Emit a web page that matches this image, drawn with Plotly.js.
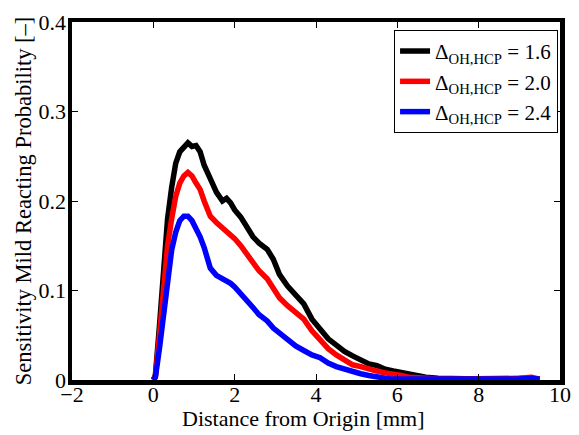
<!DOCTYPE html>
<html><head><meta charset="utf-8">
<script src="https://cdn.plot.ly/plotly-3.0.1.min.js"></script>
<style>html,body{margin:0;padding:0;background:#fff;}#chart{width:579px;height:435px;}</style>
</head><body><div id="chart"></div>
<script>
const distance = [0, 0.05, 0.15, 0.25, 0.35, 0.45, 0.55, 0.65, 0.75, 0.85, 0.95, 1.05, 1.15, 1.25, 1.4, 1.55, 1.7, 1.8, 1.9, 2.0, 2.15, 2.3, 2.45, 2.6, 2.8, 2.95, 3.1, 3.3, 3.5, 3.7, 3.9, 4.1, 4.3, 4.5, 4.7, 4.9, 5.1, 5.3, 5.5, 5.7, 5.9, 6.1, 6.3, 6.5, 6.7, 7.0, 7.5, 8.0, 8.5, 9.0, 9.3, 9.5];
const prob16 = [0, 0.005, 0.06, 0.12, 0.18, 0.215, 0.242, 0.255, 0.26, 0.265, 0.261, 0.262, 0.255, 0.24, 0.225, 0.21, 0.2, 0.203, 0.198, 0.19, 0.182, 0.17, 0.16, 0.153, 0.146, 0.135, 0.118, 0.105, 0.095, 0.085, 0.068, 0.057, 0.046, 0.039, 0.032, 0.027, 0.022, 0.018, 0.016, 0.012, 0.010, 0.008, 0.006, 0.004, 0.003, 0.002, 0.001, 0.001, 0.001, 0.002, 0.002, 0.001];
const prob20 = [0, 0.004, 0.05, 0.1, 0.15, 0.18, 0.205, 0.22, 0.228, 0.232, 0.228, 0.22, 0.213, 0.2, 0.183, 0.176, 0.17, 0.167, 0.164, 0.158, 0.15, 0.14, 0.13, 0.122, 0.113, 0.103, 0.092, 0.083, 0.076, 0.068, 0.055, 0.044, 0.035, 0.028, 0.022, 0.017, 0.015, 0.012, 0.010, 0.008, 0.007, 0.005, 0.003, 0.002, 0.001, 0.001, 0.001, 0.001, 0.001, 0.002, 0.003, 0.001];
const prob24 = [0, 0.003, 0.035, 0.075, 0.11, 0.145, 0.165, 0.178, 0.183, 0.183, 0.178, 0.17, 0.16, 0.148, 0.125, 0.117, 0.113, 0.112, 0.108, 0.104, 0.097, 0.088, 0.081, 0.073, 0.066, 0.058, 0.052, 0.045, 0.038, 0.033, 0.028, 0.025, 0.019, 0.015, 0.012, 0.009, 0.007, 0.005, 0.003, 0.002, 0.001, 0.001, 0.001, 0, 0, 0, 0.001, 0.001, 0.001, 0.001, 0.002, 0.001];
const seriesNames = ['Δ<sub>OH,HCP</sub> = 1.6', 'Δ<sub>OH,HCP</sub> = 2.0', 'Δ<sub>OH,HCP</sub> = 2.4'];
const seriesColors = ['#000000', '#ff0000', '#0000ff'];
const xTicks = [-2, 0, 2, 4, 6, 8, 10];
const yTicks = [0, 0.1, 0.2, 0.3, 0.4];
const xTitle = 'Distance from Origin [mm]';
const yTitle = 'Sensitivity Mild Reacting Probability [\u2013]';

const ys = [prob16, prob20, prob24];
const traces = ys.map((y, i) => ({
  x: distance, y: y, type: 'scatter', mode: 'lines', name: seriesNames[i],
  line: {color: seriesColors[i], width: 5.5}
}));

const font = {family: 'Liberation Serif, Times New Roman, serif', color: '#000'};
const layout = {
  width: 579, height: 435,
  margin: {l: 72, r: 19, t: 22, b: 55},
  paper_bgcolor: '#fff', plot_bgcolor: '#fff',
  font: Object.assign({size: 22}, font),
  showlegend: true,
  legend: {x: 0.996, y: 0.978, xanchor: 'right', yanchor: 'top', bgcolor: '#fff',
    bordercolor: '#000', borderwidth: 1, font: Object.assign({size: 21}, font), tracegroupgap: 0, itemwidth: 30},
  xaxis: {range: [-2, 10], tickvals: xTicks, ticktext: xTicks.map(v => v < 0 ? '\u2212' + Math.abs(v) : String(v)),
    showgrid: false, zeroline: false, showline: true, linewidth: 4.5, linecolor: '#000', mirror: 'ticks',
    ticks: 'inside', ticklen: 6, tickwidth: 1, tickcolor: '#000', tickfont: Object.assign({size: 22}, font),
    ticklabelstandoff: -9},
  yaxis: {range: [0, 0.4], tickvals: yTicks, ticktext: ['0', '0.1', '0.2', '0.3', '0.4'],
    showgrid: false, zeroline: false, showline: true, linewidth: 4.5, linecolor: '#000', mirror: 'ticks',
    ticks: 'inside', ticklen: 6, tickwidth: 1, tickcolor: '#000', tickfont: Object.assign({size: 22}, font),
    ticklabelstandoff: -3,
    title: {text: yTitle, font: Object.assign({size: 22.5}, font), standoff: 2}},
  annotations: [{text: xTitle, xref: 'paper', yref: 'paper', x: 0.475, y: 0, xanchor: 'center', yanchor: 'top',
    yshift: -24, showarrow: false, font: Object.assign({size: 22}, font)}]
};
Plotly.newPlot('chart', traces, layout, {displayModeBar: false, staticPlot: true});
</script></body></html>
